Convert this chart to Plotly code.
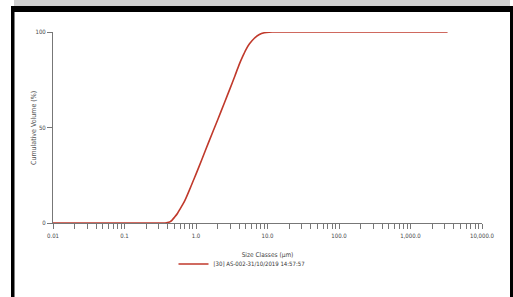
import plotly.graph_objects as go

# Data
size_um = [0.01, 0.1, 0.3, 0.37, 0.4, 0.43, 0.46, 0.5, 0.55, 0.6, 0.65, 0.7, 0.8, 0.9, 1.0,
           1.2, 1.5, 2.0, 2.5, 3.0, 3.5, 4.0, 4.5, 5.0, 5.6, 6.5, 7.7, 9.0, 10.5, 12.0, 100.0, 1000.0, 3300.0]
cum_volume = [0, 0, 0, 0, 0.2, 0.6, 1.4, 3.0, 5.0, 7.4, 9.6, 11.8, 16.8, 21.5, 25.6,
              33.0, 42.2, 53.8, 63.0, 70.5, 77.0, 82.8, 87.2, 90.8, 93.8, 96.6, 98.7, 99.6, 99.95, 100, 100, 100, 100]
series_name = "[30] AS-002-31/10/2019 14:57:57"

x_tick_vals = [0.01, 0.1, 1, 10, 100, 1000, 10000]
x_tick_text = ["0.01", "0.1", "1.0", "10.0", "100.0", "1,000.0", "10,000.0"]
y_tick_vals = [0, 50, 100]

W, H = 513, 297
L, R_PX, T, B_PX = 53, 482, 32, 223  # plot area in pixels
def px(p):
    return (p - L) / (R_PX - L)
def py(q):
    return (B_PX - q) / (B_PX - T)

font_fam = "Liberation Sans Narrow, DejaVu Sans Condensed, Arial Narrow, sans-serif"
red = "#c0392b"
fig = go.Figure()
fig.add_trace(go.Scatter(x=size_um, y=cum_volume, mode="lines", name=series_name,
                         line=dict(color=red, width=1.6, shape="spline", smoothing=0.6),
                         showlegend=True))

minor_vals = [k * 10 ** n for n in range(-2, 4) for k in range(2, 10)]

fig.update_layout(
    width=W, height=H,
    margin=dict(l=L, r=W - R_PX, t=T, b=H - B_PX, pad=0),
    paper_bgcolor="white", plot_bgcolor="white",
    font=dict(family=font_fam, size=6, color="#444"),
    showlegend=True,
    legend=dict(orientation="h", x=px(242), xanchor="center", y=py(264), yanchor="middle",
                font=dict(size=6, color="#333"), bgcolor="rgba(0,0,0,0)",
                itemwidth=30, tracegroupgap=0),
    xaxis=dict(type="log", range=[-2, 4], showgrid=False, zeroline=False,
               showline=True, linecolor="#777", linewidth=1,
               ticks="outside", ticklen=5, tickcolor="#777", tickwidth=1,
               tickmode="array", tickvals=x_tick_vals, ticktext=x_tick_text,
               tickfont=dict(size=6, color="#444"), ticklabelstandoff=2,
               minor=dict(ticks="outside", ticklen=5, tickcolor="#777", tickwidth=1,
                          tickmode="array", tickvals=minor_vals, showgrid=False),
               title=dict(text="Size Classes (µm)", font=dict(size=6.5, color="#444"), standoff=14)),
    yaxis=dict(range=[0, 100], showgrid=False, zeroline=False,
               showline=True, linecolor="#777", linewidth=1,
               ticks="outside", ticklen=5, tickcolor="#777", tickwidth=1,
               tickmode="array", tickvals=y_tick_vals,
               tickfont=dict(size=6, color="#444")),
    annotations=[dict(text="Cumulative Volume (%)", xref="paper", yref="paper",
                      x=px(34), y=py(128), textangle=-90, showarrow=False,
                      xanchor="center", yanchor="middle",
                      font=dict(size=7, color="#555"))],
)

# Frame decoration (gray header strip and black borders)
shapes = [
    dict(type="rect", xref="paper", yref="paper", x0=px(14), x1=px(510), y0=py(-2), y1=py(6.5),
         fillcolor="#cfcfcf", line=dict(width=0), layer="above"),
    dict(type="rect", xref="paper", yref="paper", x0=px(11), x1=px(514), y0=py(6), y1=py(12),
         fillcolor="black", line=dict(width=0), layer="above"),
    dict(type="rect", xref="paper", yref="paper", x0=px(11), x1=px(14.5), y0=py(6), y1=py(300),
         fillcolor="black", line=dict(width=0), layer="above"),
    dict(type="rect", xref="paper", yref="paper", x0=px(510), x1=px(514), y0=py(6), y1=py(300),
         fillcolor="black", line=dict(width=0), layer="above"),
]
fig.update_layout(shapes=shapes)

fig.write_html("out.html", config={"displayModeBar": False},
               post_script="document.body.style.margin='0';document.body.style.overflow='hidden';")
